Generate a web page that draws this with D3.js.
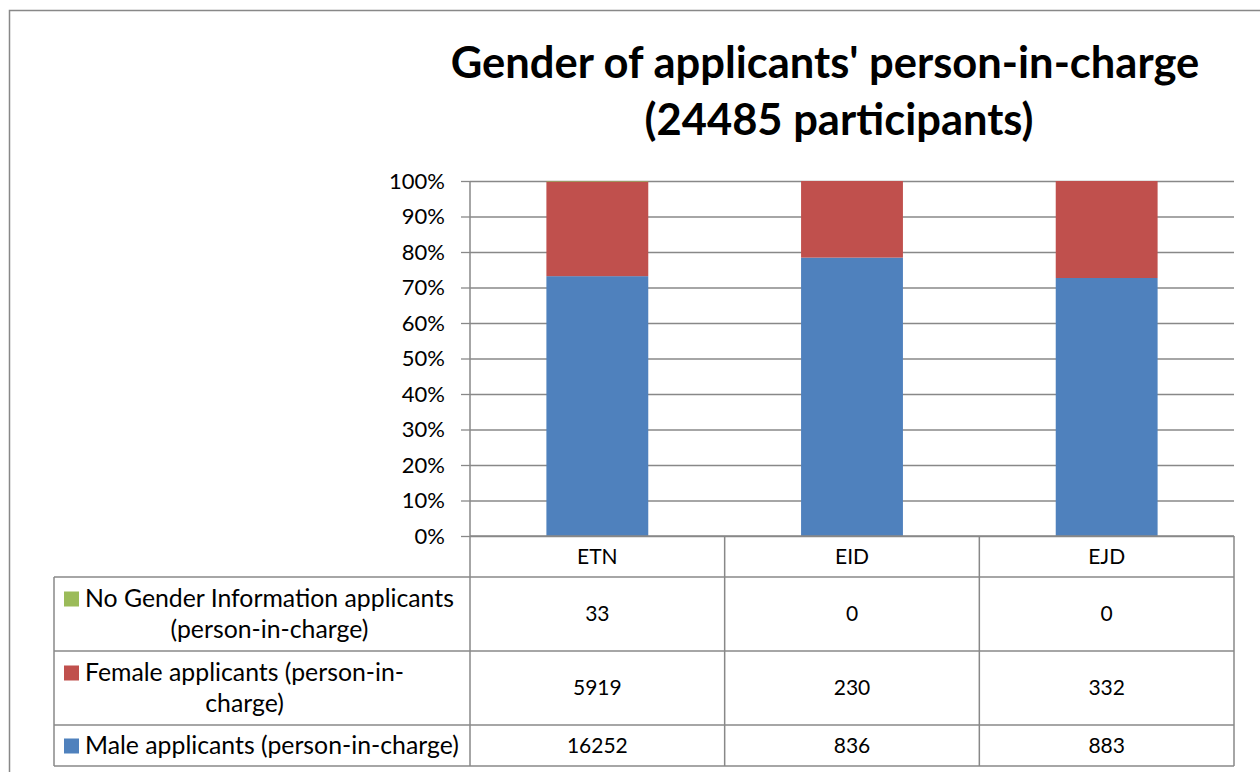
<!DOCTYPE html>
<html>
<head>
<meta charset="utf-8">
<script src="https://cdn.jsdelivr.net/npm/d3@7"></script>
<style>
  html, body { margin: 0; padding: 0; background: #fff; }
  svg { display: block; font-family: Lato, 'Open Sans', sans-serif; }
</style>
</head>
<body>
<svg width="1260" height="772"></svg>
<script>
const categories = ['ETN', 'EID', 'EJD']
const noGender = [33, 0, 0]
const female = [5919, 230, 332]
const male = [16252, 836, 883]
const yTicks = [0, 0.1, 0.2, 0.3, 0.4, 0.5, 0.6, 0.7, 0.8, 0.9, 1]
const titleLines = ["Gender of applicants' person-in-charge", '(24485 participants)']

// table rows, top to bottom, with their line breaks as shown
const tableRows = [
  { key: 'noGender', lines: ['No Gender Information applicants', '(person-in-charge)'], values: noGender },
  { key: 'female', lines: ['Female applicants (person-in-', 'charge)'], values: female },
  { key: 'male', lines: ['Male applicants (person-in-charge)'], values: male },
]
const colors = { male: '#4f81bd', female: '#c0504d', noGender: '#9bbb59' }

const plot = { left: 470, right: 1234, top: 181, bottom: 536 }
const table = { left: 54, headerH: 41, rowH: [74, 74, 41] }
const lineGap = 31
const grey = '#888'

const svg = d3.select('svg')

svg.append('rect')
  .attr('x', 9.5).attr('y', 10.5)
  .attr('width', 1400).attr('height', 900)
  .attr('fill', 'none').attr('stroke', grey).attr('stroke-width', 1.5)

const title = svg.append('text')
  .attr('font-weight', 'bold').attr('font-size', 43.5)
  .attr('text-anchor', 'middle')
titleLines.forEach((t, i) => {
  title.append('tspan').attr('x', i == 0 ? 825 : 839).attr('y', 78 + i * 57).text(t)
})

const x = d3.scaleBand().domain(categories).range([plot.left, plot.right])
const y = d3.scaleLinear().domain([0, 1]).range([plot.bottom, plot.top])

// gridlines
svg.append('g')
  .attr('transform', `translate(${ plot.left },0)`)
  .call(d3.axisLeft(y).tickValues(yTicks).tickSize(-(plot.right - plot.left)).tickFormat(''))
  .call(g => g.select('.domain').remove())
  .call(g => g.selectAll('line').attr('stroke', grey).attr('stroke-width', 1.3))

// axis with tick labels
svg.append('g')
  .attr('transform', `translate(${ plot.left },0)`)
  .call(d3.axisLeft(y).tickValues(yTicks).tickSize(9).tickSizeOuter(0).tickPadding(16)
    .tickFormat(d3.format('.0%')))
  .call(g => g.select('.domain').remove())
  .call(g => g.selectAll('line').attr('stroke', grey).attr('stroke-width', 1.3))
  .call(g => g.selectAll('text').attr('font-size', 22).attr('fill', '#000')
    .attr('font-family', 'Lato, sans-serif'))

// stacked bars
const rows = categories.map((c, i) => ({ cat: c, male: male[i], female: female[i], noGender: noGender[i] }))
const stack = d3.stack().keys(['male', 'female', 'noGender']).offset(d3.stackOffsetExpand)(rows)
const barW = x.bandwidth() * 0.4

svg.append('g').selectAll('g')
  .data(stack).join('g')
  .attr('fill', d => colors[d.key])
  .selectAll('rect')
  .data(d => d).join('rect')
  .attr('x', d => x(d.data.cat) + (x.bandwidth() - barW) / 2)
  .attr('width', barW)
  .attr('y', d => y(d[1]))
  .attr('height', d => y(d[0]) - y(d[1]))

// data table
const tbl = svg.append('g')
const rowTops = [plot.bottom + table.headerH]
table.rowH.forEach((h, i) => rowTops.push(rowTops[i] + h))
const tableBottom = rowTops[rowTops.length - 1]

tbl.selectAll('line.h')
  .data(rowTops).join('line')
  .attr('x1', table.left).attr('x2', plot.right)
  .attr('y1', d => d).attr('y2', d => d)
tbl.append('line').attr('x1', plot.left).attr('x2', plot.right)
  .attr('y1', plot.bottom).attr('y2', plot.bottom)
tbl.append('line').attr('x1', table.left).attr('x2', table.left)
  .attr('y1', rowTops[0]).attr('y2', tableBottom)
tbl.append('line').attr('x1', plot.left).attr('x2', plot.left)
  .attr('y1', plot.top).attr('y2', tableBottom)
tbl.selectAll('line.v')
  .data(categories).join('line')
  .attr('x1', d => x(d) + x.bandwidth()).attr('x2', d => x(d) + x.bandwidth())
  .attr('y1', plot.bottom).attr('y2', tableBottom)
tbl.selectAll('line').attr('stroke', grey).attr('stroke-width', 1.5)

tbl.selectAll('text.head')
  .data(categories).join('text')
  .attr('x', d => x(d) + x.bandwidth() / 2)
  .attr('y', plot.bottom + table.headerH / 2)
  .attr('dy', '0.35em')
  .attr('text-anchor', 'middle').attr('font-size', 21)
  .text(d => d)

tableRows.forEach((r, ri) => {
  const mid = (rowTops[ri] + rowTops[ri + 1]) / 2
  const g = tbl.append('g')
  categories.forEach((c, ci) => {
    g.append('text')
      .attr('x', x(c) + x.bandwidth() / 2).attr('y', mid).attr('dy', '0.35em')
      .attr('text-anchor', 'middle').attr('font-size', 21)
      .text(r.values[ci])
  })
  const textLeft = 85
  const first = mid - (r.lines.length - 1) * lineGap / 2
  const texts = r.lines.map((l, li) => g.append('text')
    .attr('y', first + li * lineGap).attr('dy', '0.35em')
    .attr('font-size', 24.8).attr('text-anchor', 'middle')
    .text(l))
  const maxW = d3.max(texts, t => t.node().getComputedTextLength())
  texts.forEach(t => t.attr('x', textLeft + maxW / 2))
  g.append('rect')
    .attr('x', 64).attr('y', first - 7).attr('width', 15).attr('height', 15)
    .attr('fill', colors[r.key])
})
</script>
</body>
</html>
